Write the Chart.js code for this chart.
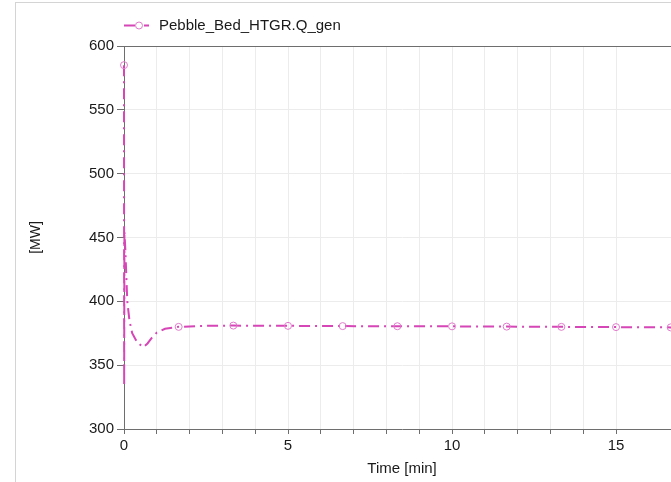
<!DOCTYPE html>
<html>
<head>
<meta charset="utf-8">
<script src="https://cdn.jsdelivr.net/npm/chart.js@4"></script>
<style>
    html, body { margin: 0; padding: 0; background: #fff; overflow: hidden; width: 671px; height: 482px; }
    .frame { position: absolute; left: 15px; top: 2px; width: 700px; height: 500px; border-left: 1px solid #d4d4d4; border-top: 1px solid #d4d4d4; }
    #chart { position: absolute; left: 0; top: 0; }
</style>
</head>
<body>
<div class="frame"></div>
<canvas id="chart" width="700" height="482"></canvas>
<script>
// Données (temps en secondes, puissance en MW)
const timeSec = [0, 0.3, 0.8, 2.5, 6, 10, 15, 24, 35, 43, 50, 60, 75, 100, 150, 200, 300, 400, 500, 600, 700, 800, 900, 1000, 1017];
const qGen = [585, 334, 455, 440, 400, 385, 375, 368, 364, 367, 371, 375.5, 378.5, 380, 380.8, 381, 380.8, 380.6, 380.5, 380.4, 380.2, 380, 379.8, 379.6, 379.5];
const seriesLabel = 'Pebble_Bed_HTGR.Q_gen';
const xTicksLabeled = [0, 5, 10, 15];
const yTicks = [300, 350, 400, 450, 500, 550, 600];
const markerEverySec = 100;

const color = '#d646b6';
const markerColor = '#e07ccc';
const dash = [11, 5, 2, 5];
const font = { family: "'Liberation Sans', Arial, sans-serif", size: 15 };

const points = timeSec.map((t, i) => ({ x: t / 60, y: qGen[i] }));
const isMarker = ctx => {
    const p = points[ctx.dataIndex];
    return p && Math.abs((p.x * 60) % markerEverySec) < 1e-6;
};

// Légende + bord supérieur du graphe
const extras = {
    id: 'extras',
    afterDraw(chart) {
        const { ctx, chartArea } = chart;
        ctx.save();
        ctx.strokeStyle = '#6e6e6e';
        ctx.lineWidth = 1;
        ctx.beginPath();
        ctx.moveTo(chartArea.left, chartArea.top + 0.5);
        ctx.lineTo(chartArea.right, chartArea.top + 0.5);
        ctx.stroke();

        const y = 25.5;
        ctx.strokeStyle = color;
        ctx.lineWidth = 2;
        ctx.setLineDash([11, 9, 5, 20]);
        ctx.beginPath();
        ctx.moveTo(124, y);
        ctx.lineTo(155, y);
        ctx.stroke();
        ctx.setLineDash([]);
        ctx.fillStyle = '#fff';
        ctx.strokeStyle = markerColor;
        ctx.lineWidth = 1;
        ctx.beginPath();
        ctx.arc(139, y, 3.5, 0, Math.PI * 2);
        ctx.fill();
        ctx.stroke();
        ctx.fillStyle = '#1a1a1a';
        ctx.font = `${font.size}px ${font.family}`;
        ctx.textBaseline = 'middle';
        ctx.fillText(seriesLabel, 159, y);
        ctx.restore();
    }
};

new Chart(document.getElementById('chart'), {
    type: 'line',
    data: {
        datasets: [{
            label: seriesLabel,
            data: points,
            borderColor: color,
            borderWidth: 2,
            borderDash: dash,
            tension: 0,
            clip: 8,
            pointStyle: 'circle',
            pointRadius: ctx => isMarker(ctx) ? 3.5 : 0,
            pointBorderColor: markerColor,
            pointBackgroundColor: 'rgba(255,255,255,0)',
            pointBorderWidth: 1
        }]
    },
    options: {
        responsive: false,
        animation: false,
        events: [],
        layout: { padding: { left: 0, right: 20, top: 46, bottom: 2 } },
        plugins: { legend: { display: false }, tooltip: { enabled: false } },
        scales: {
            x: {
                type: 'linear',
                min: 0,
                max: 16.95,
                afterFit(scale) { scale.height = 51; },
                border: { color: '#6e6e6e', width: 1 },
                grid: { color: '#ececec', tickColor: '#6e6e6e', tickLength: 5 },
                ticks: {
                    stepSize: 1,
                    autoSkip: false,
                    maxRotation: 0,
                    padding: 3,
                    color: '#1a1a1a',
                    font,
                    callback: v => xTicksLabeled.includes(v) ? String(v) : ''
                },
                title: { display: true, text: 'Time [min]', color: '#1a1a1a', font, padding: { top: 0, bottom: 2 } }
            },
            y: {
                min: yTicks[0],
                max: yTicks[yTicks.length - 1],
                afterFit(scale) { scale.width = 124; },
                border: { color: '#6e6e6e', width: 1 },
                grid: { color: '#ececec', tickColor: '#6e6e6e', tickLength: 7 },
                ticks: { stepSize: 50, padding: 3, color: '#1a1a1a', font },
                title: { display: true, text: '[MW]', color: '#1a1a1a', font: { family: font.family, size: 14 }, padding: { top: 28, bottom: 0 } }
            }
        }
    },
    plugins: [extras]
});
</script>
</body>
</html>
